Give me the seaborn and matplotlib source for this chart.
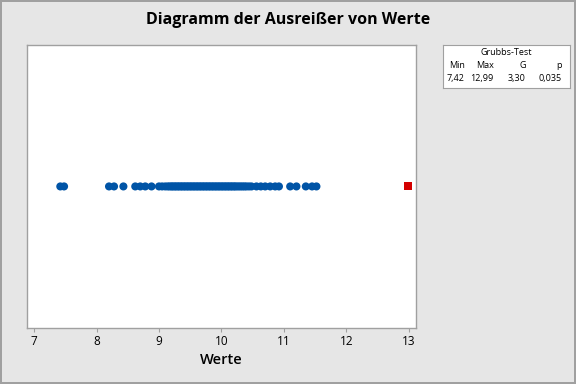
import pandas as pd
import seaborn as sns
import matplotlib.pyplot as plt

# values
werte = [7.42, 7.48,
         8.20, 8.28, 8.43,
         8.62, 8.70, 8.78, 8.88,
         9.00, 9.05, 9.10, 9.14, 9.17, 9.20, 9.22, 9.25, 9.27, 9.30,
         9.32, 9.35, 9.37, 9.40, 9.42, 9.45, 9.47, 9.50, 9.52, 9.55,
         9.57, 9.60, 9.62, 9.65, 9.67, 9.70, 9.72, 9.75, 9.77, 9.80,
         9.82, 9.85, 9.87, 9.90, 9.92, 9.95, 9.97, 10.00, 10.02, 10.05,
         10.07, 10.10, 10.12, 10.15, 10.17, 10.20, 10.22, 10.25, 10.28, 10.31,
         10.34, 10.37, 10.40, 10.44, 10.48,
         10.56, 10.63, 10.70, 10.78, 10.86, 10.92,
         11.10, 11.20, 11.35, 11.45, 11.52,
         12.99]
ausreisser = [12.99]

grubbs_header = ["Min", "Max", "G", "p"]
grubbs_values = ["7,42", "12,99", "3,30", "0,035"]

df = pd.DataFrame({"Werte": werte, "y": [0] * len(werte)})
df["Typ"] = ["Ausreißer" if w in ausreisser else "normal" for w in werte]

sns.set_style("white")
plt.rcParams["font.family"] = ["Open Sans", "DejaVu Sans"]
plt.rcParams["text.color"] = "black"
plt.rcParams["axes.labelcolor"] = "black"
plt.rcParams["xtick.color"] = "black"

fig = plt.figure(figsize=(5.76, 3.84), dpi=100, facecolor="#e6e6e6",
                 edgecolor="#a0a0a0", linewidth=1.5)
ax = fig.add_axes([0.047, 0.146, 0.675, 0.737])

sns.scatterplot(data=df, x="Werte", y="y", hue="Typ", style="Typ",
                palette={"normal": "#0054a6", "Ausreißer": "#d40000"},
                markers={"normal": "o", "Ausreißer": "s"},
                s=34, linewidth=0, legend=False, ax=ax)

ax.set_xlim(6.888, 13.112)
ax.set_ylim(-1, 1)
ax.set_yticks([])
ax.set_ylabel("")
ax.set_xticks([7, 8, 9, 10, 11, 12, 13])
ax.tick_params(axis="x", labelsize=8.5, length=3, color="#a0a0a0", labelcolor="black",
               bottom=True, pad=2)
ax.set_xlabel("Werte", fontsize=10.5, labelpad=4, fontweight="semibold")
for s in ax.spines.values():
    s.set_color("#a0a0a0")
    s.set_linewidth(1)

fig.suptitle("Diagramm der Ausreißer von Werte", fontsize=11.5, fontweight="bold",
             x=0.5, y=0.968)

# Grubbs-Test box
bx = fig.add_axes([0.769, 0.771, 0.221, 0.112])
bx.set_xticks([])
bx.set_yticks([])
bx.set_facecolor("white")
for s in bx.spines.values():
    s.set_color("#a0a0a0")
bx.text(0.5, 0.83, "Grubbs-Test", ha="center", va="center", fontsize=6.5, transform=bx.transAxes)
xs = [0.17, 0.40, 0.65, 0.93]
for x, h, v in zip(xs, grubbs_header, grubbs_values):
    bx.text(x, 0.52, h, ha="right", va="center", fontsize=6.5, transform=bx.transAxes)
    bx.text(x, 0.22, v, ha="right", va="center", fontsize=6.5, transform=bx.transAxes)

fig.savefig("out.png", dpi=100, facecolor=fig.get_facecolor(), edgecolor=fig.get_edgecolor())
